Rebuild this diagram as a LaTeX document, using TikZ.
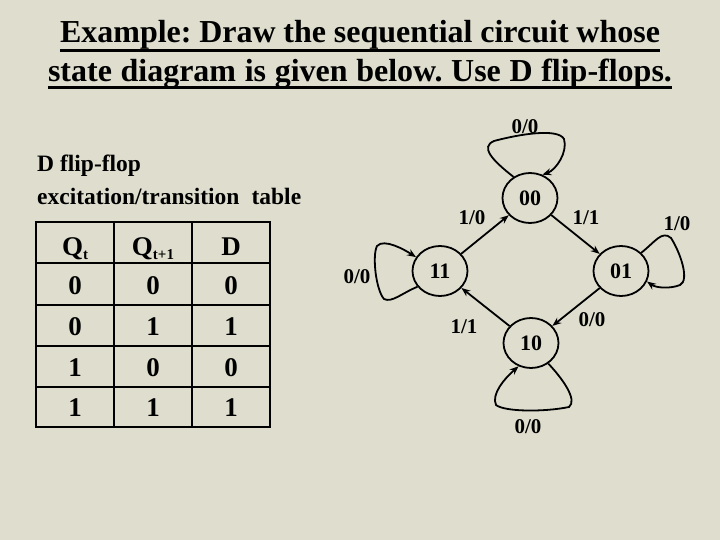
\documentclass[tikz,border=0pt]{standalone}
\usepackage{fontspec}
\setmainfont{Liberation Serif}
\usetikzlibrary{shapes.geometric,arrows.meta,calc}
\definecolor{bg}{RGB}{223,222,206}
\frenchspacing
\begin{document}
\begin{tikzpicture}[x=1pt,y=-1pt,
  title/.style={font=\bfseries\fontsize{32}{32}\selectfont, inner sep=0pt, anchor=base},
  hdr/.style={font=\bfseries\fontsize{23.5}{23.5}\selectfont, inner sep=0pt, anchor=base west},
  cell/.style={font=\bfseries\fontsize{27}{27}\selectfont, inner sep=0pt, anchor=base},
  state/.style={draw, ellipse, line width=1.8pt, minimum width=55pt, minimum height=50pt, inner sep=0pt, font=\bfseries\fontsize{22}{22}\selectfont},
  lab/.style={font=\bfseries\fontsize{21}{21}\selectfont, inner sep=0pt},
  tr/.style={line width=1.8pt, -{Stealth[length=9pt,width=7pt,inset=3pt]}},
  grid/.style={line width=2.4pt}]
\path[fill=bg] (0,0) rectangle (720,540);
% title
\node[title] (t1) at (360,43) {\makebox[600pt][s]{Example: Draw the sequential circuit whose}};
\node[title] (t2) at (360,82) {\makebox[624pt][s]{state diagram is given below. Use D flip-flops.}};
\draw[line width=3pt] ($(t1.base west)+(0,7.5)$) -- ($(t1.base east)+(0,7.5)$);
\draw[line width=3pt] ($(t2.base west)+(0,5.5)$) -- ($(t2.base east)+(0,5.5)$);
% table caption
\node[hdr] (h1) at (37,172) {D flip-flop};
\node[hdr] (h2) at (37,205) {\makebox[264pt][s]{excitation/transition table}};
% table grid
\draw[grid] (36,222) rectangle (270,427);
\foreach \x in {114,192} \draw[grid] (\x,222) -- (\x,427);
\foreach \y in {263,305,346,387} \draw[grid] (36,\y) -- (270,\y);
\node[cell] (c11) at (75,255) {Q\raisebox{-0.4ex}{\fontsize{15}{15}\selectfont t}};
\node[cell] (c12) at (153,255) {Q\raisebox{-0.4ex}{\fontsize{15}{15}\selectfont t+1}};
\node[cell] (c13) at (231,255) {D};
\node[cell] at (75,294) {0}; \node[cell] at (153,294) {0}; \node[cell] at (231,294) {0};
\node[cell] at (75,335) {0}; \node[cell] at (153,335) {1}; \node[cell] at (231,335) {1};
\node[cell] at (75,376) {1}; \node[cell] at (153,376) {0}; \node[cell] at (231,376) {0};
\node[cell] at (75,416) {1}; \node[cell] at (153,416) {1}; \node[cell] at (231,416) {1};
% states
\node[state] (n00) at (530,198) {00};
\node[state] (n11) at (440,271) {11};
\node[state] (n01) at (621,271) {01};
\node[state] (n10) at (531,343) {10};
% transitions
\draw[tr] (n11) -- (n00);
\draw[tr] (n00) -- (n01);
\draw[tr] (n01) -- (n10);
\draw[tr] (n10) -- (n11);
% self loops
\draw[tr] (n00.128) .. controls (492,160) and (480,147) .. (494,141)
  .. controls (520,134) and (558,128) .. (564,139)
  .. controls (568,152) and (556,170) .. (n00.62);
\draw[tr] (n01.42) .. controls (655,242) and (662,230) .. (671,238)
  .. controls (680,252) and (690,280) .. (680,285)
  .. controls (670,289) and (656,288) .. (n01.-22);
\draw[tr] (n11.-145) .. controls (402,293) and (392,303) .. (384,299)
  .. controls (376,290) and (372,256) .. (377,246)
  .. controls (384,238) and (405,250) .. (n11.150);
\draw[tr] (n10.-50) .. controls (562,378) and (578,400) .. (569,407)
  .. controls (545,412) and (505,412) .. (496,405)
  .. controls (491,394) and (505,378) .. (n10.-118);
% labels
\node[lab] (l1) at (525,127) {0/0};
\node[lab] (l2) at (472,218) {1/0};
\node[lab] (l3) at (586,218) {1/1};
\node[lab] (l4) at (677,224) {1/0};
\node[lab] (l5) at (357,277) {0/0};
\node[lab] (l6) at (464,327) {1/1};
\node[lab] (l7) at (592,320) {0/0};
\node[lab] (l8) at (528,427) {0/0};
\end{tikzpicture}
\end{document}
